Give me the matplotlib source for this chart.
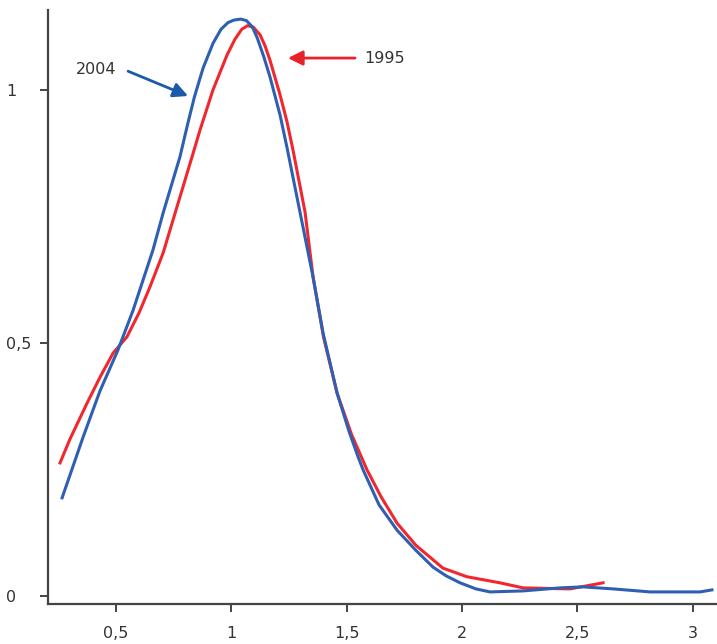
import numpy as np
import matplotlib
matplotlib.use('Agg')
import matplotlib.pyplot as plt

# 2004 curve (blue)
x2004 = [0.266, 0.357, 0.430, 0.508, 0.574, 0.660, 0.704, 0.777, 0.810, 0.840,
         0.877, 0.920, 0.955, 0.985, 1.010, 1.040, 1.065, 1.090, 1.111, 1.140,
         1.167, 1.211, 1.241, 1.297, 1.354, 1.397, 1.458, 1.510, 1.549, 1.571,
         1.640, 1.718, 1.800, 1.874, 1.930, 1.991, 2.060, 2.121, 2.264, 2.424,
         2.524, 2.654, 2.815, 3.031, 3.083]
y2004 = [0.194, 0.314, 0.405, 0.486, 0.565, 0.684, 0.757, 0.868, 0.932, 0.987,
         1.043, 1.092, 1.120, 1.133, 1.138, 1.140, 1.137, 1.125, 1.104, 1.066,
         1.026, 0.950, 0.886, 0.759, 0.630, 0.520, 0.401, 0.325, 0.275, 0.249,
         0.180, 0.130, 0.090, 0.057, 0.040, 0.026, 0.014, 0.008, 0.010, 0.016,
         0.018, 0.014, 0.008, 0.008, 0.012]

# 1995 curve (red)
x1995 = [0.257, 0.300, 0.374, 0.430, 0.487, 0.547, 0.600, 0.647, 0.704, 0.764,
         0.834, 0.864, 0.920, 0.981, 1.015, 1.045, 1.070, 1.095, 1.124, 1.145,
         1.167, 1.211, 1.241, 1.267, 1.319, 1.354, 1.400, 1.458, 1.520, 1.588,
         1.650, 1.718, 1.800, 1.917, 2.021, 2.164, 2.264, 2.468, 2.611]
y1995 = [0.263, 0.310, 0.381, 0.432, 0.480, 0.512, 0.560, 0.611, 0.678, 0.769,
         0.875, 0.921, 1.000, 1.069, 1.100, 1.120, 1.127, 1.124, 1.109, 1.088,
         1.059, 0.990, 0.937, 0.881, 0.759, 0.630, 0.510, 0.401, 0.320, 0.249,
         0.195, 0.144, 0.100, 0.055, 0.038, 0.026, 0.016, 0.014, 0.026]

xticks = [0.5, 1, 1.5, 2, 2.5, 3]
xlabels = ['0,5', '1', '1,5', '2', '2,5', '3']
yticks = [0, 0.5, 1]
ylabels = ['0', '0,5', '1']

blue = '#2f5fb3'
red = '#f0282e'
grey = '#333333'

fig = plt.figure(figsize=(7.17, 6.44), dpi=100)
ax = fig.add_axes([0.067, 0.062, 0.933, 0.9225])

ax.plot(x1995, y1995, color=red, lw=2.2, solid_joinstyle='round')
ax.plot(x2004, y2004, color=blue, lw=2.2, solid_joinstyle='round')

ax.set_xlim(0.205, 3.105)
ax.set_ylim(-0.016, 1.158)

for s in ['top', 'right']:
    ax.spines[s].set_visible(False)
for s in ['left', 'bottom']:
    ax.spines[s].set_color('#444444')
    ax.spines[s].set_linewidth(1.6)

ax.set_xticks(xticks)
ax.set_xticklabels(xlabels)
ax.set_yticks(yticks)
ax.set_yticklabels(ylabels)
ax.tick_params(axis='x', length=6, width=1.4, color='#444444', pad=10,
               labelsize=11.5, labelcolor=grey)
ax.tick_params(axis='y', length=6, width=1.4, color='#444444', pad=24,
               labelsize=11.5, labelcolor=grey)
for lab in ax.get_yticklabels():
    lab.set_horizontalalignment('left')

# labels and arrows
ax.text(0.413, 1.040, '2004', ha='center', va='center', fontsize=11.5, color=grey)
ax.annotate('', xy=(0.812, 0.988), xytext=(0.552, 1.037),
            arrowprops=dict(arrowstyle='-|>', color='#1b5aa8', lw=2,
                            mutation_scale=22, shrinkA=0, shrinkB=0))
ax.text(1.666, 1.063, '1995', ha='center', va='center', fontsize=11.5, color=grey)
ax.annotate('', xy=(1.245, 1.063), xytext=(1.536, 1.063),
            arrowprops=dict(arrowstyle='-|>', color='#e8222a', lw=2,
                            mutation_scale=22, shrinkA=0, shrinkB=0))

fig.savefig('out.png', dpi=100)
